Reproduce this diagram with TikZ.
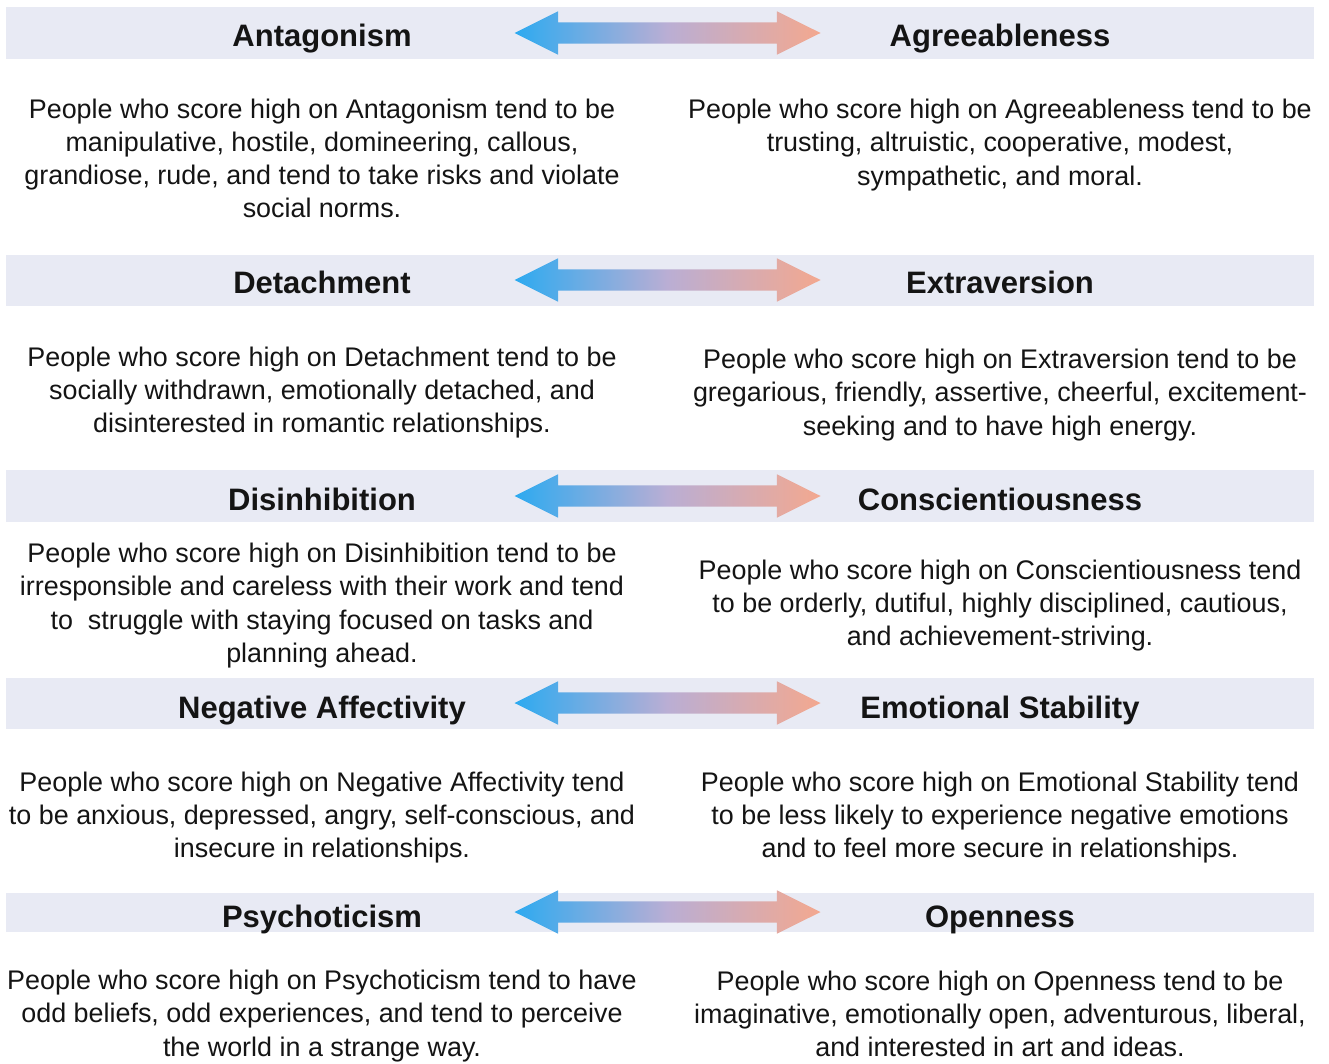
\documentclass[tikz,border=0pt]{standalone}
\usepackage{fontspec}
\setmainfont{Liberation Sans}
\usetikzlibrary{shapes.arrows}
\definecolor{barlav}{RGB}{232,234,244}
\definecolor{tipblue}{RGB}{45,170,240}
\definecolor{midlav}{RGB}{186,174,212}
\definecolor{tipsalmon}{RGB}{243,168,143}
\definecolor{inkgray}{RGB}{20,20,20}

\begin{document}
\begin{tikzpicture}[x=1pt, y=-1pt,
      bar/.style={fill=barlav, minimum width=1308pt, minimum height=52pt,
        inner sep=0pt},
      trait/.style={font=\fontsize{31}{36}\selectfont\bfseries, text=inkgray,
        inner sep=0pt, anchor=base},
      desc/.style={font=\fontsize{26.9}{33.2}\selectfont, align=center,
        text=inkgray, inner sep=0pt},
      duo/.style={double arrow, double arrow head extend=11pt,
        double arrow tip angle=53, minimum width=43pt, minimum height=306pt,
        inner xsep=0pt, inner ysep=10.5pt, left color=tipblue,
        right color=tipsalmon, middle color=midlav}
    ]
    \useasboundingbox (0,0) rectangle (1329,1064);

    \node[bar] (bar1) at (660,33) {};
    \node[bar, minimum height=51pt] (bar2) at (660,280.5) {};
    \node[bar] (bar3) at (660,496) {};
    \node[bar, minimum height=51pt] (bar4) at (660,703.5) {};
    \node[bar, minimum height=39pt] (bar5) at (660,912.5) {};

    \node[duo] (duo1) at (667.5,33) {};
    \node[duo] (duo2) at (667.5,280) {};
    \node[duo] (duo3) at (667.5,496) {};
    \node[duo] (duo4) at (667.5,703) {};
    \node[duo] (duo5) at (667.5,912) {};

    \node[trait] (antag) at (322,47) {Antagonism};
    \node[trait] (agree) at (1000,47) {Agreeableness};
    \node[trait] (detach) at (322,294) {Detachment};
    \node[trait] (extra) at (1000,294) {Extraversion};
    \node[trait] (disinh) at (322,510) {Disinhibition};
    \node[trait] (consc) at (1000,510) {Conscientiousness};
    \node[trait] (negaff) at (322,718) {Negative Affectivity};
    \node[trait] (emostab) at (1000,718) {Emotional Stability};
    \node[trait] (psycho) at (322,927) {Psychoticism};
    \node[trait] (open) at (1000,927) {Openness};

    \node[desc] (antagtxt) at (322,158.5) {People who score high on Antagonism tend to be\\
      manipulative, hostile, domineering, callous,\\
      grandiose, rude, and tend to take risks and violate\\
      social norms.};
    \node[desc] (agreetxt) at (1000,145) {People who score high on Agreeableness tend to be\\
      trusting, altruistic, cooperative, modest,\\
      sympathetic, and moral.};
    \node[desc] (detachtxt) at (322,392.5) {People who score high on Detachment tend to be\\
      socially withdrawn, emotionally detached, and\\
      disinterested in romantic relationships.};
    \node[desc] (extratxt) at (1000,395) {People who score high on Extraversion tend to be\\
      gregarious, friendly, assertive, cheerful, excitement-\\
      seeking and to have high energy.};
    \node[desc] (disinhtxt) at (322,605.5) {People who score high on Disinhibition tend to be\\
      irresponsible and careless with their work and tend\\
      to\ \ struggle with staying focused on tasks and\\
      planning ahead.};
    \node[desc] (consctxt) at (1000,605.5) {People who score high on Conscientiousness tend\\
      to be orderly, dutiful, highly disciplined, cautious,\\
      and achievement-striving.};
    \node[desc] (negafftxt) at (322,817.5) {People who score high on Negative Affectivity tend\\
      to be anxious, depressed, angry, self-conscious, and\\
      insecure in relationships.};
    \node[desc] (emostabtxt) at (1000,817.5) {People who score high on Emotional Stability tend\\
      to be less likely to experience negative emotions\\
      and to feel more secure in relationships.};
    \node[desc] (psychotxt) at (322,1016) {People who score high on Psychoticism tend to have\\
      odd beliefs, odd experiences, and tend to perceive\\
      the world in a strange way.};
    \node[desc] (opentxt) at (1000,1014) {People who score high on Openness tend to be\\
      imaginative, emotionally open, adventurous, liberal,\\
      and interested in art and ideas.};
  \end{tikzpicture}
\end{document}
